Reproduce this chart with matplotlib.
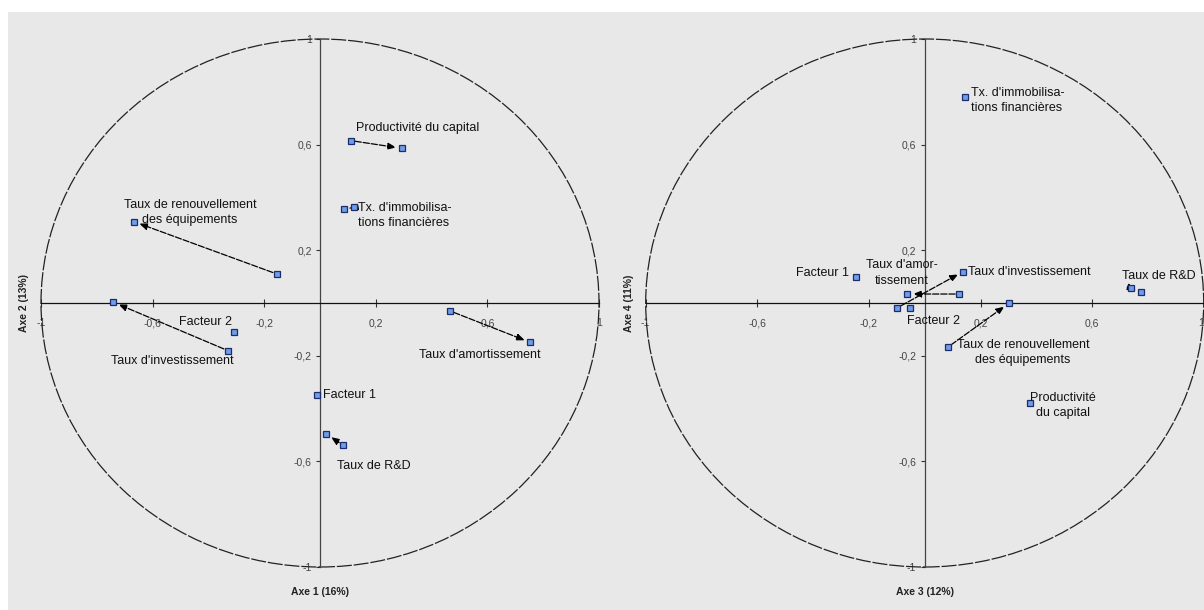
import matplotlib
matplotlib.use("Agg")
import matplotlib.pyplot as plt
from matplotlib.patches import Rectangle, Circle
from matplotlib.ticker import FuncFormatter

# ---------------------------------------------------------------------------
# Data: correlation circles (arrows go from the first to the second position)
# ---------------------------------------------------------------------------
tick_values = [-1, -0.6, -0.2, 0.2, 0.6, 1]

# Plane 1-2
arrows_12_names = ["Productivité du capital", "Tx. d'immobilisations financières",
                   "Taux de renouvellement des équipements", "Taux d'investissement",
                   "Taux d'amortissement", "Taux de R&D"]
arrows_12_from_x = [0.111, 0.122, -0.155, -0.331, 0.466, 0.081]
arrows_12_from_y = [0.615, 0.362, 0.110, -0.180, -0.030, -0.538]
arrows_12_to_x = [0.293, 0.086, -0.667, -0.741, 0.753, 0.023]
arrows_12_to_y = [0.586, 0.356, 0.308, 0.003, -0.149, -0.496]
points_12_names = ["Facteur 1", "Facteur 2"]
points_12_x = [-0.009, -0.307]
points_12_y = [-0.348, -0.109]

# Plane 3-4
arrows_34_names = ["Taux d'amortissement", "Taux d'investissement",
                   "Taux de renouvellement des équipements", "Taux de R&D"]
arrows_34_from_x = [0.124, -0.098, 0.082, 0.738]
arrows_34_from_y = [0.034, -0.018, -0.168, 0.056]
arrows_34_to_x = [-0.062, 0.138, 0.302, 0.774]
arrows_34_to_y = [0.034, 0.119, -0.001, 0.040]
points_34_names = ["Facteur 1", "Facteur 2", "Productivité du capital",
                   "Tx. d'immobilisations financières"]
points_34_x = [-0.246, -0.053, 0.376, 0.144]
points_34_y = [0.097, -0.020, -0.380, 0.779]

axis_titles_12 = ("Axe 1 (16%)", "Axe 2 (13%)")
axis_titles_34 = ("Axe 3 (12%)", "Axe 4 (11%)")

# ---------------------------------------------------------------------------
# Label layout: displayed text, anchor ("from"/"to"/"pt"), pixel offset, align
# ---------------------------------------------------------------------------
labels_12 = {
    "Productivité du capital": ("Productivité du capital", "from", (5, 13), "left"),
    "Tx. d'immobilisations financières": ("Tx. d'immobilisa-\ntions financières", "from", (4, -8), "left"),
    "Taux de renouvellement des équipements": ("Taux de renouvellement\ndes équipements", "to", (56, 9), "center"),
    "Taux d'investissement": ("Taux d'investissement", "from", (-55, -10), "center"),
    "Taux d'amortissement": ("Taux d'amortissement", "to", (-50, -13), "center"),
    "Taux de R&D": ("Taux de R&D", "from", (-6, -21), "left"),
    "Facteur 1": ("Facteur 1", "pt", (6, 0), "left"),
    "Facteur 2": ("Facteur 2", "pt", (-2, 10), "right"),
}
labels_34 = {
    "Taux d'amortissement": ("Taux d'amor-\ntissement", "to", (-6, 21), "center"),
    "Taux d'investissement": ("Taux d'investissement", "to", (5, 0), "left"),
    "Taux de renouvellement des équipements": ("Taux de renouvellement\ndes équipements", "to", (14, -49), "center"),
    "Taux de R&D": ("Taux de R&D", "from", (65, 12), "right"),
    "Facteur 1": ("Facteur 1", "pt", (-7, 4), "right"),
    "Facteur 2": ("Facteur 2", "pt", (-3, -13), "left"),
    "Productivité du capital": ("Productivité\ndu capital", "pt", (33, -2), "center"),
    "Tx. d'immobilisations financières": ("Tx. d'immobilisa-\ntions financières", "pt", (6, -3), "left"),
}

# ---------------------------------------------------------------------------
# Styling
# ---------------------------------------------------------------------------
W, H, DPI = 1204, 610, 100
BG = "#e8e8e8"
NARROW = ["Liberation Sans Narrow", "Liberation Sans", "DejaVu Sans"]
plt.rcParams["font.family"] = NARROW

RX, RY = 279.0, 264.0          # unit radius in pixels (x, y)
CY = 303.0                     # vertical centre (pixels from top)

marker_kw = dict(marker="s", markersize=4.8, markerfacecolor="#6f9ee6",
                 markeredgecolor="#1b2b6e", markeredgewidth=0.9, linestyle="none",
                 zorder=6)

fig = plt.figure(figsize=(W / DPI, H / DPI), dpi=DPI, facecolor="white")
fig.patches.append(Rectangle((8 / W, 0), 1 - 8 / W, (H - 12) / H,
                             transform=fig.transFigure, facecolor=BG,
                             edgecolor="none", zorder=-10))


def make_axes(px_left, px_right, cx):
    ax = fig.add_axes([px_left / W, 0, (px_right - px_left) / W, (H - 12) / H])
    ax.set_facecolor("none")
    ax.set_xlim((px_left - cx) / RX, (px_right - cx) / RX)
    ax.set_ylim((CY - H) / RY, (CY - 12) / RY)
    for side in ("top", "right"):
        ax.spines[side].set_visible(False)
    ax.spines["left"].set_position(("data", 0))
    ax.spines["bottom"].set_position(("data", 0))
    ax.spines["left"].set_bounds(-1, 1)
    ax.spines["bottom"].set_bounds(-1, 1)
    ax.spines["left"].set_color("#444444")
    ax.spines["bottom"].set_color("#111111")
    ax.spines["left"].set_linewidth(0.9)
    ax.spines["bottom"].set_linewidth(0.9)
    fmt = FuncFormatter(lambda v, pos: f"{v:g}".replace(".", ","))
    ax.set_xticks(tick_values)
    ax.set_yticks(tick_values)
    ax.xaxis.set_major_formatter(fmt)
    ax.yaxis.set_major_formatter(fmt)
    ax.tick_params(axis="x", direction="inout", length=6, width=0.8,
                   pad=8, labelsize=7.5, labelcolor="#444444", color="#333333")
    ax.tick_params(axis="y", direction="out", length=3, width=0.8,
                   pad=3, labelsize=7.5, labelcolor="#444444", color="#333333")
    ax.add_patch(Circle((0, 0), 1, fill=False, edgecolor="#222222", lw=0.9,
                        linestyle=(0, (12, 1.5)), clip_on=False, zorder=2))
    return ax


def draw_plane(ax, names, fx, fy, tx, ty, pnames, px, py, labels, titles):
    anchors = {}
    for n, x0, y0, x1, y1 in zip(names, fx, fy, tx, ty):
        ax.annotate("", xy=(x1, y1), xytext=(x0, y0),
                    arrowprops=dict(arrowstyle="-|>,head_length=0.55,head_width=0.22",
                                    color="black", lw=0.9, linestyle=(0, (5, 1.5)),
                                    shrinkA=3, shrinkB=4, mutation_scale=9),
                    zorder=4)
        ax.plot([x0, x1], [y0, y1], **marker_kw)
        anchors[n] = {"from": (x0, y0), "to": (x1, y1)}
    for n, x, y in zip(pnames, px, py):
        ax.plot([x], [y], **marker_kw)
        anchors[n] = {"pt": (x, y)}
    for n, (text, which, off, ha) in labels.items():
        ax.annotate(text, xy=anchors[n][which], xytext=off,
                    textcoords="offset pixels", ha=ha, va="center",
                    multialignment=ha,
                    fontsize=9, color="#111111", linespacing=1.35, zorder=7)
    ax.annotate(titles[0], xy=(0, -1), xytext=(0, -25), textcoords="offset pixels",
                ha="center", va="center", fontsize=7.5, fontweight="bold",
                color="#222222")
    ax.annotate(titles[1], xy=(-1, 0), xytext=(-17, 0), textcoords="offset pixels",
                ha="center", va="center", rotation=90, fontsize=7.5,
                fontweight="bold", color="#222222",
                family=["Liberation Sans", "DejaVu Sans"])


ax1 = make_axes(10, 610, 320.0)
draw_plane(ax1, arrows_12_names, arrows_12_from_x, arrows_12_from_y,
           arrows_12_to_x, arrows_12_to_y, points_12_names, points_12_x,
           points_12_y, labels_12, axis_titles_12)

ax2 = make_axes(610, 1204, 924.7)
draw_plane(ax2, arrows_34_names, arrows_34_from_x, arrows_34_from_y,
           arrows_34_to_x, arrows_34_to_y, points_34_names, points_34_x,
           points_34_y, labels_34, axis_titles_34)
# the "1" at the right end sits against the figure edge: keep it inside
ax2.get_xticklabels()[-1].set_horizontalalignment("right")

fig.savefig("out.png", dpi=DPI, facecolor="white")
